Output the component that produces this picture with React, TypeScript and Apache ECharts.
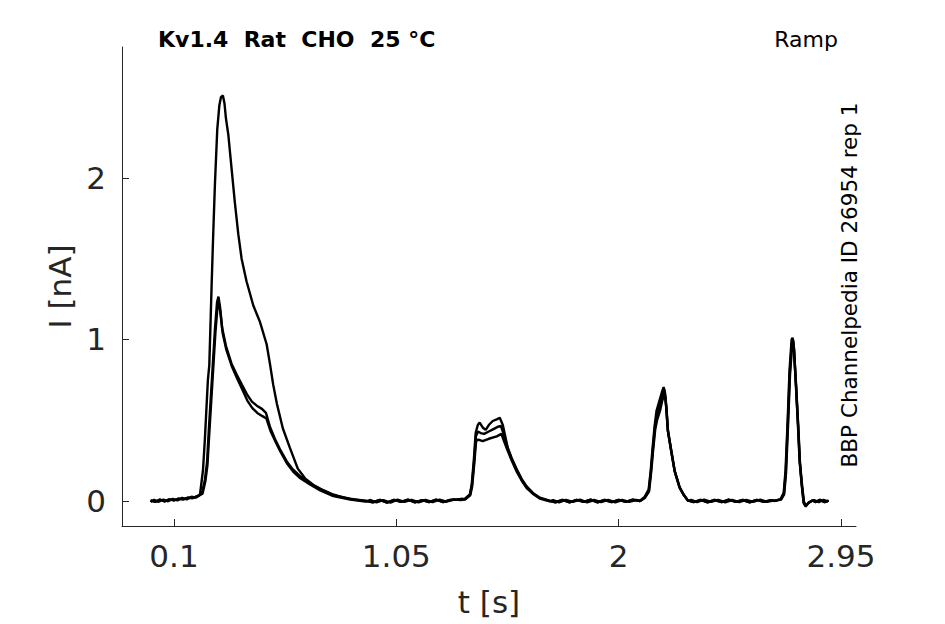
import React, { useEffect, useRef } from "react";
import * as echarts from "echarts";

const FONT = '"DejaVu Sans", sans-serif';
const AXIS_COLOR = "#262626";

const X_TICKS = [0.1, 1.05, 2, 2.95];
const Y_TICKS = [0, 1, 2];

const TITLE = "Kv1.4  Rat  CHO  25 °C";
const PROTOCOL = "Ramp";
const SOURCE = "BBP Channelpedia ID 26954 rep 1";

// ---- Sweep A (small first peak, upper envelope) ----
const base1A = [[0.0, 0.004], [0.02, -0.006], [0.04, 0.008], [0.06, -0.002], [0.08, 0.01], [0.10, 0.004], [0.12, 0.014], [0.14, 0.01], [0.16, 0.02], [0.18, 0.018], [0.20, 0.03]];
const pulse1A = [[0.220, 0.05], [0.232, 0.13], [0.241, 0.235], [0.249, 0.44], [0.262, 0.75], [0.275, 1.06], [0.284, 1.23], [0.290, 1.265], [0.297, 1.20], [0.306, 1.07], [0.322, 0.96], [0.346, 0.85], [0.369, 0.78], [0.390, 0.72], [0.412, 0.66], [0.433, 0.615], [0.454, 0.59], [0.476, 0.57], [0.493, 0.545], [0.510, 0.46], [0.531, 0.385], [0.553, 0.32], [0.582, 0.245], [0.608, 0.195], [0.638, 0.155], [0.681, 0.11], [0.723, 0.075], [0.779, 0.038], [0.851, 0.014], [0.916, 0.002]];
const base2A = [[0.95, -0.008], [0.98, 0.006], [1.01, -0.01], [1.04, 0.007], [1.07, -0.006], [1.10, 0.008], [1.13, -0.009], [1.16, 0.005], [1.19, -0.007], [1.22, 0.008], [1.25, -0.007], [1.28, 0.006], [1.31, 0.009], [1.33, 0.012]];
const pulse2A = [[1.343, 0.014], [1.364, 0.04], [1.372, 0.10], [1.381, 0.25], [1.389, 0.42], [1.398, 0.47], [1.406, 0.485], [1.419, 0.455], [1.432, 0.44], [1.445, 0.47], [1.462, 0.495], [1.479, 0.505], [1.492, 0.515], [1.505, 0.47], [1.526, 0.33], [1.543, 0.265], [1.565, 0.195], [1.586, 0.135], [1.607, 0.09], [1.633, 0.05], [1.663, 0.02], [1.705, 0.002]];
const base3A = [[1.73, -0.008], [1.76, 0.006], [1.79, -0.009], [1.82, 0.007], [1.85, -0.006], [1.88, 0.008], [1.91, -0.008], [1.94, 0.006], [1.97, -0.007], [2.00, 0.007], [2.03, -0.006], [2.06, 0.008], [2.08, 0.003]];
const pulse3A = [[2.090, 0.0], [2.111, 0.025], [2.128, 0.07], [2.137, 0.19], [2.145, 0.33], [2.154, 0.47], [2.162, 0.56], [2.175, 0.625], [2.184, 0.67], [2.192, 0.705], [2.197, 0.68], [2.203, 0.58], [2.210, 0.44], [2.226, 0.30], [2.239, 0.19], [2.260, 0.087], [2.277, 0.04], [2.295, 0.005]];
const base4A = [[2.32, -0.007], [2.35, 0.007], [2.38, -0.008], [2.41, 0.006], [2.44, -0.007], [2.47, 0.008], [2.50, -0.006], [2.53, 0.006], [2.56, -0.008], [2.59, 0.007], [2.62, -0.006], [2.65, 0.005]];
const spikeA = [[2.666, 0.0], [2.692, 0.012], [2.705, 0.05], [2.713, 0.19], [2.722, 0.50], [2.730, 0.81], [2.739, 1.00], [2.743, 1.01], [2.747, 0.985], [2.756, 0.75], [2.765, 0.50], [2.773, 0.25], [2.782, 0.10], [2.790, -0.012], [2.799, -0.035], [2.811, -0.012], [2.828, 0.005]];
const base5A = [[2.84, -0.007], [2.86, 0.007], [2.88, -0.008], [2.897, 0.002]];

// ---- Sweep B (large first peak) ----
const pulse1B = [[0.211, 0.037], [0.224, 0.19], [0.232, 0.38], [0.245, 0.75], [0.251, 0.84], [0.261, 1.34], [0.267, 1.62], [0.275, 1.96], [0.285, 2.30], [0.294, 2.45], [0.301, 2.50], [0.309, 2.51], [0.316, 2.46], [0.322, 2.37], [0.332, 2.27], [0.346, 2.06], [0.360, 1.85], [0.375, 1.65], [0.389, 1.50], [0.410, 1.36], [0.439, 1.21], [0.467, 1.11], [0.496, 0.97], [0.510, 0.85], [0.524, 0.72], [0.540, 0.60], [0.565, 0.45], [0.595, 0.33], [0.629, 0.20], [0.660, 0.14], [0.700, 0.095], [0.740, 0.065], [0.780, 0.04], [0.820, 0.022], [0.870, 0.008], [0.920, 0.0]];
const pulse2B = [[1.344, 0.01], [1.365, 0.04], [1.373, 0.095], [1.382, 0.24], [1.390, 0.40], [1.399, 0.43], [1.410, 0.42], [1.425, 0.415], [1.445, 0.43], [1.465, 0.445], [1.485, 0.46], [1.497, 0.465], [1.507, 0.42], [1.526, 0.325], [1.543, 0.26], [1.565, 0.19], [1.586, 0.13], [1.607, 0.085], [1.633, 0.048], [1.663, 0.018], [1.705, 0.0]];
const pulse3B = [[2.091, 0.0], [2.112, 0.022], [2.129, 0.065], [2.138, 0.185], [2.146, 0.32], [2.155, 0.455], [2.163, 0.53], [2.176, 0.59], [2.185, 0.645], [2.193, 0.685], [2.198, 0.665], [2.204, 0.57], [2.210, 0.435], [2.226, 0.295], [2.239, 0.185], [2.260, 0.085], [2.278, 0.038], [2.296, 0.002]];
const spikeB = [[2.667, 0.002], [2.693, 0.01], [2.706, 0.045], [2.714, 0.18], [2.723, 0.49], [2.731, 0.79], [2.740, 0.98], [2.744, 0.99], [2.748, 0.965], [2.757, 0.73], [2.766, 0.485], [2.774, 0.24], [2.783, 0.095], [2.791, -0.01], [2.800, -0.03], [2.812, -0.01], [2.829, 0.003]];

// ---- Sweep C (small first peak, lower envelope) ----
const base1C = [[0.0, -0.006], [0.015, 0.007], [0.035, -0.005], [0.055, 0.009], [0.075, -0.002], [0.095, 0.013], [0.115, 0.004], [0.135, 0.019], [0.155, 0.01], [0.175, 0.026], [0.195, 0.021], [0.21, 0.035]];
const pulse1C = [[0.222, 0.045], [0.234, 0.12], [0.243, 0.22], [0.251, 0.42], [0.264, 0.73], [0.277, 1.04], [0.286, 1.20], [0.291, 1.235], [0.298, 1.17], [0.308, 1.04], [0.324, 0.935], [0.348, 0.83], [0.371, 0.755], [0.392, 0.69], [0.414, 0.62], [0.435, 0.575], [0.456, 0.545], [0.478, 0.525], [0.495, 0.51], [0.512, 0.435], [0.533, 0.37], [0.555, 0.305], [0.584, 0.23], [0.610, 0.18], [0.640, 0.14], [0.683, 0.10], [0.725, 0.065], [0.781, 0.03], [0.853, 0.008], [0.918, -0.004]];
const base2C = [[0.94, 0.006], [0.965, -0.009], [0.995, 0.005], [1.025, -0.01], [1.055, 0.008], [1.085, -0.006], [1.115, 0.007], [1.145, -0.008], [1.175, 0.006], [1.205, -0.007], [1.235, 0.008], [1.265, -0.004], [1.295, 0.009], [1.325, 0.005]];
const pulse2C = [[1.345, 0.01], [1.366, 0.035], [1.374, 0.09], [1.383, 0.23], [1.391, 0.37], [1.400, 0.38], [1.419, 0.37], [1.445, 0.385], [1.479, 0.40], [1.499, 0.415], [1.510, 0.37], [1.526, 0.31], [1.543, 0.25], [1.565, 0.18], [1.586, 0.125], [1.607, 0.08], [1.633, 0.045], [1.663, 0.015], [1.705, -0.003]];
const base3C = [[1.72, 0.005], [1.745, -0.008], [1.775, 0.007], [1.805, -0.006], [1.835, 0.008], [1.865, -0.008], [1.895, 0.006], [1.925, -0.007], [1.955, 0.007], [1.985, -0.008], [2.015, 0.006], [2.045, -0.006], [2.075, 0.006]];
const pulse3C = [[2.092, 0.0], [2.113, 0.02], [2.130, 0.06], [2.139, 0.18], [2.147, 0.31], [2.156, 0.44], [2.164, 0.50], [2.177, 0.56], [2.186, 0.62], [2.195, 0.66], [2.200, 0.64], [2.205, 0.56], [2.211, 0.43], [2.227, 0.29], [2.240, 0.18], [2.261, 0.08], [2.279, 0.035], [2.297, 0.0]];
const base4C = [[2.31, 0.006], [2.335, -0.007], [2.365, 0.008], [2.395, -0.006], [2.425, 0.007], [2.455, -0.008], [2.485, 0.006], [2.515, -0.007], [2.545, 0.007], [2.575, -0.006], [2.605, 0.008], [2.635, -0.005], [2.66, 0.002]];
const spikeC = [[2.668, 0.001], [2.694, 0.008], [2.707, 0.04], [2.715, 0.17], [2.724, 0.48], [2.732, 0.78], [2.741, 0.96], [2.745, 0.97], [2.749, 0.945], [2.758, 0.72], [2.767, 0.47], [2.775, 0.23], [2.784, 0.09], [2.792, -0.008], [2.801, -0.028], [2.813, -0.008], [2.830, 0.002]];
const base5C = [[2.835, 0.006], [2.855, -0.007], [2.875, 0.007], [2.895, -0.002]];

const sweepA = [...base1A, ...pulse1A, ...base2A, ...pulse2A, ...base3A, ...pulse3A, ...base4A, ...spikeA, ...base5A];
const sweepB = [...base1A, ...pulse1B, ...base2A, ...pulse2B, ...base3A, ...pulse3B, ...base4A, ...spikeB, ...base5A];
const sweepC = [...base1C, ...pulse1C, ...base2C, ...pulse2C, ...base3C, ...pulse3C, ...base4C, ...spikeC, ...base5C];

const SWEEPS = [sweepA, sweepB, sweepC];

export default function App() {
  const ref = useRef<HTMLDivElement>(null);

  useEffect(() => {
    if (!ref.current) return;
    const chart = echarts.init(ref.current, null, { renderer: "svg" });
    const fmt = (v: number) => String(+Number(v).toFixed(2));
    chart.setOption({
      animation: false,
      backgroundColor: "#ffffff",
      grid: { left: 122, top: 47, width: 734, height: 479, containLabel: false },
      xAxis: {
        type: "value",
        min: -0.122,
        max: 3.014,
        axisLine: { show: true, onZero: false, lineStyle: { color: AXIS_COLOR, width: 1 } },
        axisTick: { show: true, inside: true, length: 7, customValues: X_TICKS, lineStyle: { color: AXIS_COLOR, width: 1 } },
        axisLabel: { show: true, customValues: X_TICKS, formatter: fmt, fontSize: 31, color: AXIS_COLOR, fontFamily: FONT, margin: 14 },
        splitLine: { show: false },
        name: "t [s]",
        nameLocation: "middle",
        nameGap: 60,
        nameTextStyle: { fontSize: 31, color: AXIS_COLOR, fontFamily: FONT },
      },
      yAxis: {
        type: "value",
        min: -0.155,
        max: 2.81,
        axisLine: { show: true, onZero: false, lineStyle: { color: AXIS_COLOR, width: 1 } },
        axisTick: { show: true, inside: true, length: 7, customValues: Y_TICKS, lineStyle: { color: AXIS_COLOR, width: 1 } },
        axisLabel: { show: true, customValues: Y_TICKS, formatter: fmt, fontSize: 31, color: AXIS_COLOR, fontFamily: FONT, margin: 16 },
        splitLine: { show: false },
        name: "I [nA]",
        nameLocation: "middle",
        nameGap: 47,
        nameRotate: 90,
        nameTextStyle: { fontSize: 31, color: AXIS_COLOR, fontFamily: FONT },
      },
      graphic: [
        {
          type: "text",
          x: 158,
          y: 39,
          style: { text: TITLE, fill: "#000", fontSize: 22, fontWeight: "bold", fontFamily: FONT, align: "left", verticalAlign: "middle" },
        },
        {
          type: "text",
          x: 838,
          y: 39,
          style: { text: PROTOCOL, fill: "#000", fontSize: 22, fontFamily: FONT, align: "right", verticalAlign: "middle" },
        },
        {
          type: "text",
          x: 849,
          y: 285,
          rotation: Math.PI / 2,
          style: { text: SOURCE, fill: "#000", fontSize: 21.5, fontFamily: FONT, align: "center", verticalAlign: "middle" },
        },
      ],
      series: SWEEPS.map((d, i) => ({
        type: "line",
        name: "sweep" + (i + 1),
        data: d,
        showSymbol: false,
        symbol: "none",
        silent: true,
        lineStyle: { color: "#000000", width: 2.4 },
      })),
    });
    return () => chart.dispose();
  }, []);

  return <div ref={ref} style={{ position: "absolute", left: 0, top: 0, width: 945, height: 624, background: "#fff" }} />;
}
